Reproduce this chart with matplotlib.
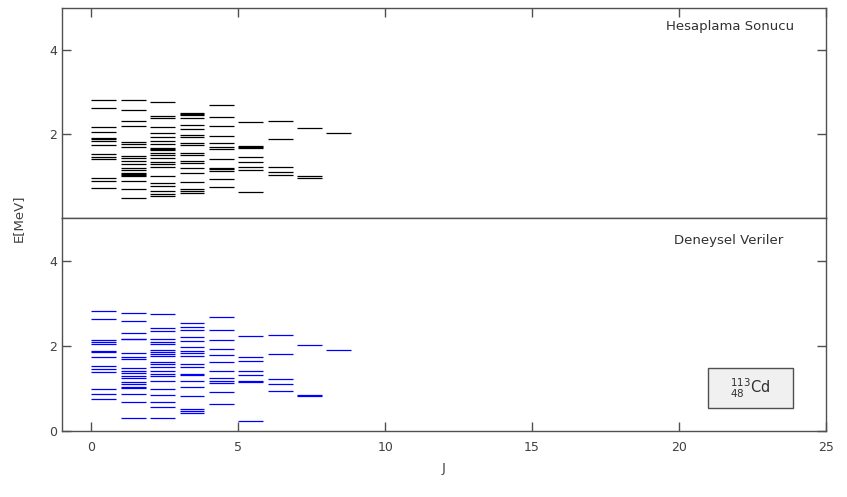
import matplotlib
matplotlib.use('Agg')
import matplotlib.pyplot as plt
from matplotlib.patches import Rectangle

plt.rcParams['font.family'] = ['DejaVu Sans']
plt.rcParams['mathtext.fontset'] = 'dejavusans'

# 113Cd seviyeleri: spin J ve enerji (MeV)
spins = [0.5, 1.5, 2.5, 3.5, 4.5, 5.5, 6.5, 7.5, 8.5]

# Hesaplama sonucu
calc_levels = [
    [2.81, 2.63, 2.16, 2.05, 1.90, 1.87, 1.83, 1.74, 1.52, 1.45, 1.40, 0.96, 0.89, 0.71],
    [2.81, 2.58, 2.30, 2.20, 1.81, 1.75, 1.69, 1.48, 1.42, 1.36, 1.28, 1.18, 1.14, 1.08,
     1.04, 1.02, 0.99, 0.87, 0.69, 0.48],
    [2.75, 2.43, 2.37, 2.16, 2.02, 1.92, 1.83, 1.77, 1.67, 1.64, 1.61, 1.55, 1.50, 1.42,
     1.34, 1.29, 1.22, 1.00, 0.83, 0.75, 0.64, 0.58, 0.53],
    [2.50, 2.48, 2.45, 2.39, 2.22, 2.12, 1.98, 1.92, 1.79, 1.74, 1.55, 1.49, 1.36, 1.31,
     1.18, 1.06, 0.86, 0.69, 0.64, 0.60],
    [2.69, 2.40, 2.20, 1.95, 1.79, 1.69, 1.65, 1.41, 1.20, 1.16, 1.11, 0.93, 0.73],
    [2.29, 1.72, 1.70, 1.67, 1.44, 1.34, 1.22, 1.15, 0.61],
    [2.32, 1.89, 1.22, 1.10, 1.02],
    [2.15, 0.99, 0.94],
    [2.02],
]

# Deneysel veriler
exp_levels = [
    [2.82, 2.64, 2.13, 2.09, 2.04, 1.87, 1.85, 1.73, 1.53, 1.45, 1.39, 0.98, 0.87, 0.75],
    [2.77, 2.59, 2.31, 2.17, 2.15, 1.83, 1.73, 1.69, 1.48, 1.42, 1.36, 1.28, 1.24, 1.16,
     1.11, 1.04, 1.00, 0.87, 0.67, 0.30],
    [2.75, 2.42, 2.34, 2.16, 2.10, 2.04, 1.89, 1.86, 1.80, 1.75, 1.62, 1.57, 1.51, 1.42,
     1.33, 1.29, 1.18, 0.99, 0.85, 0.69, 0.57, 0.30],
    [2.53, 2.43, 2.36, 2.20, 2.12, 1.98, 1.87, 1.84, 1.75, 1.58, 1.51, 1.34, 1.31, 1.18,
     1.04, 0.81, 0.52, 0.47, 0.43],
    [2.68, 2.36, 2.13, 1.93, 1.79, 1.63, 1.40, 1.25, 1.18, 1.12, 0.92, 0.63],
    [2.23, 1.73, 1.65, 1.40, 1.32, 1.18, 1.14, 0.24],
    [2.25, 1.80, 1.22, 1.11, 0.95],
    [2.03, 0.85, 0.82],
    [1.91],
]

frame_color = '#505050'
fig = plt.figure(figsize=(8.47, 4.97), dpi=100)
left, right = 0.0732, 0.975
bottom, mid, top = 0.1328, 0.5614, 0.984
ax1 = fig.add_axes([left, mid, right - left, top - mid])
ax2 = fig.add_axes([left, bottom, right - left, mid - bottom])


def draw_levels(ax, levels, color):
    for j, es in zip(spins, levels):
        ax.hlines(es, j - 0.5, j + 0.35, colors=color, linewidth=0.9)


draw_levels(ax1, calc_levels, 'black')
draw_levels(ax2, exp_levels, 'blue')

for ax in (ax1, ax2):
    ax.set_xlim(-1, 25)
    ax.set_ylim(0, 5)
    ax.set_xticks([0, 5, 10, 15, 20, 25])
    ax.set_yticks([0, 2, 4])
    for s in ax.spines.values():
        s.set_color(frame_color)
        s.set_linewidth(1.0)
    ax.tick_params(direction='in', length=6.5, width=1.0, color=frame_color,
                   labelcolor='#404040', labelsize=9, right=True)

ax1.set_yticks([2, 4])
ax1.tick_params(axis='x', top=True, bottom=False, labelbottom=False)
ax2.tick_params(axis='x', top=False, bottom=True)
ax2.tick_params(axis='x', pad=7)

ax1.text(0.959, 0.91, 'Hesaplama Sonucu', transform=ax1.transAxes,
         ha='right', va='center', fontsize=9.5, color='#303030')
ax2.text(0.944, 0.892, 'Deneysel Veriler', transform=ax2.transAxes,
         ha='right', va='center', fontsize=9.5, color='#303030')

ax2.add_patch(Rectangle((0.8455, 0.108), 0.111, 0.188, transform=ax2.transAxes,
                        facecolor='#f0f0f0', edgecolor=frame_color, linewidth=1.0))
ax2.text(0.8455 + 0.0555, 0.108 + 0.094, r'${}^{113}_{48}\mathrm{Cd}$',
         transform=ax2.transAxes, ha='center', va='center', fontsize=10.5,
         color='#303030')

ax2.set_xlabel('J', fontsize=9.5, color='#404040', labelpad=6)
fig.text(0.022, mid, 'E[MeV]', rotation=90, ha='center', va='center',
         fontsize=9.5, color='#404040')

fig.savefig('out.png', dpi=100)
